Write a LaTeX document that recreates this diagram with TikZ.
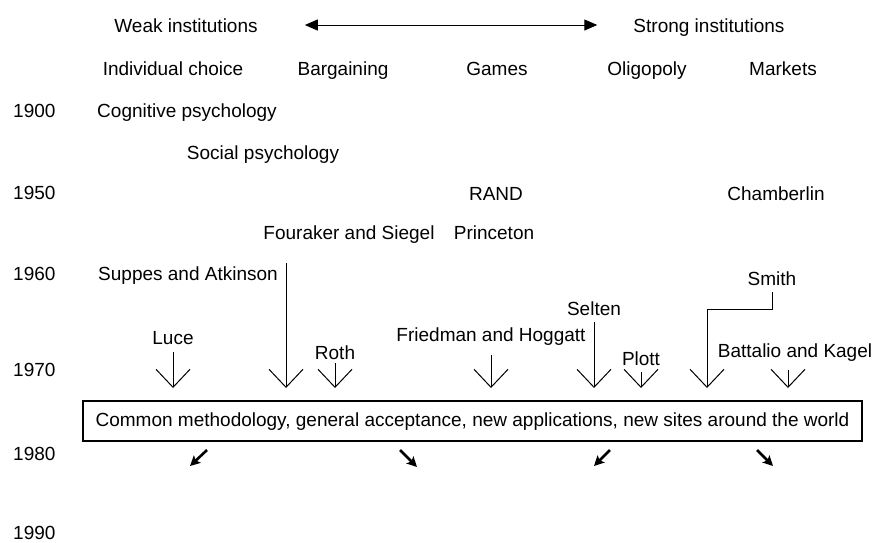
\documentclass[tikz,border=0pt]{standalone}
\usepackage{fontspec}
\setmainfont{Liberation Sans}
\usetikzlibrary{arrows.meta}

\begin{document}
\begin{tikzpicture}[x=1pt, y=-1pt, every node/.style={font=\fontsize{19}{23}\selectfont},
  lbl/.style={inner sep=0pt, text height=14pt, text depth=4pt, anchor=base},
  yr/.style={lbl, anchor=base west},
  drop/.style={line width=1pt, -{Straight Barb[length=18pt, width=34pt, line width=1pt]}},
  span/.style={line width=1pt, {Triangle[length=13pt, width=11pt]}-{Triangle[length=13pt, width=11pt]}},
  spill/.style={line width=2.6pt, -{Stealth[length=10pt, width=10pt, inset=2pt]}}]
  \useasboundingbox (0,0) rectangle (874,542);
  % header: institutions scale and the five fields
  \node[lbl] (weak) at (186,32) {Weak institutions};
  \node[lbl] (strong) at (709,32) {Strong institutions};
  \draw[span] ([xshift=47pt, yshift=2pt]weak.east) -- ([xshift=-36pt, yshift=2pt]strong.west);
  \node[lbl] (indiv) at (173,75) {Individual choice};
  \node[lbl] (barg) at (343,75) {Bargaining};
  \node[lbl] (games) at (497,75) {Games};
  \node[lbl] (oligo) at (647,75) {Oligopoly};
  \node[lbl] (markets) at (783,75) {Markets};
  % time axis
  \node[yr] (y1900) at (13,117) {1900};
  \node[yr] (y1950) at (13,199) {1950};
  \node[yr] (y1960) at (13,280) {1960};
  \node[yr] (y1970) at (13,376) {1970};
  \node[yr] (y1980) at (13,460) {1980};
  \node[yr] (y1990) at (13,539) {1990};
  % origins
  \node[lbl] (cogn) at (187,117) {Cognitive psychology};
  \node[lbl] (social) at (263,159) {Social psychology};
  \node[lbl] (rand) at (496,200) {RAND};
  \node[lbl] (chamb) at (776,200) {Chamberlin};
  \node[lbl] (fouraker) at (349,239) {Fouraker and Siegel};
  \node[lbl] (princeton) at (494,239) {Princeton};
  \node[lbl] (suppes) at (188,280) {Suppes and Atkinson};
  \node[lbl] (smith) at (772,285) {Smith};
  \node[lbl] (selten) at (594,315) {Selten};
  \node[lbl] (friedman) at (491,341) {Friedman and Hoggatt};
  \node[lbl] (luce) at (173,344) {Luce};
  \node[lbl] (roth) at (335,359) {Roth};
  \node[lbl] (plott) at (641,365) {Plott};
  \node[lbl] (kagel) at (795,357) {Battalio and Kagel};
  % arrows into the common box
  \coordinate (tips) at (0,388);
  \coordinate (atkTop) at (286,263);
  \coordinate (atkTip) at (286,388);
  \coordinate (smithBend) at (707,309);
  \coordinate (smithTip) at (707,388);
  \coordinate (kagelTip) at (788,388);
  \draw[drop] (atkTop) -- (atkTip);
  \draw[drop] ([yshift=-4pt]luce.south) -- (luce.south |- tips);
  \draw[drop] (roth.south) -- (roth.south |- tips);
  \draw[drop] ([yshift=-10pt]friedman.south) -- (friedman.south |- tips);
  \draw[drop] ([yshift=-3pt]selten.south) -- (selten.south |- tips);
  \draw[drop] ([yshift=-3pt]plott.south) -- (plott.south |- tips);
  \draw[drop] ([yshift=-3pt]smith.south) |- (smithBend) -- (smithTip);
  \draw[drop] ([xshift=-7pt, yshift=-9pt]kagel.south) -- (kagelTip);
  \node[draw, line width=1.2pt, minimum width=779pt, minimum height=40pt, inner sep=0pt,
    text height=14pt, text depth=4pt] (common) at (472.5,421)
    {Common methodology, general acceptance, new applications, new sites around the world};
  % spreading out
  \coordinate (o1) at (207,450); \coordinate (e1) at (190,466);
  \coordinate (o2) at (400,450); \coordinate (e2) at (417,467);
  \coordinate (o3) at (610,450); \coordinate (e3) at (594,466);
  \coordinate (o4) at (757,450); \coordinate (e4) at (773,466);
  \draw[spill] (o1) -- (e1); \draw[spill] (o2) -- (e2);
  \draw[spill] (o3) -- (e3); \draw[spill] (o4) -- (e4);
\end{tikzpicture}
\end{document}
